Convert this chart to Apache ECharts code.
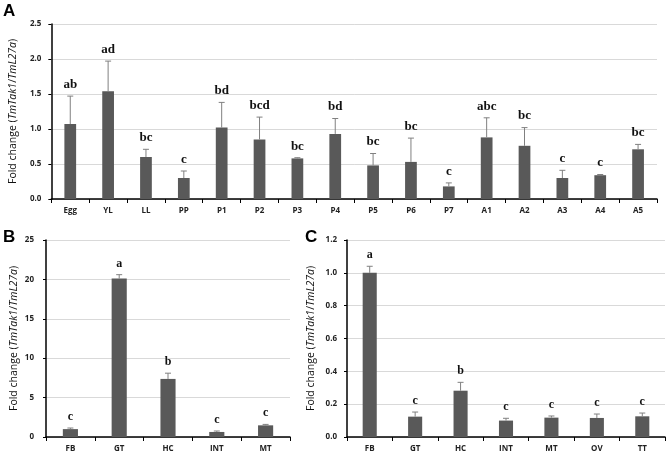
<!DOCTYPE html>
<html><head><meta charset="utf-8">
<script src="https://cdn.jsdelivr.net/npm/echarts@6/dist/echarts.min.js"></script>
<style>html,body{margin:0;padding:0;background:#fff}#c{width:669px;height:455px}</style>
</head><body><div id="c"></div>
<script>
// Panel A
const catsA = ['Egg','YL','LL','PP','P1','P2','P3','P4','P5','P6','P7','A1','A2','A3','A4','A5'];
const valsA = [1.07,1.54,0.60,0.30,1.02,0.85,0.58,0.93,0.48,0.53,0.18,0.88,0.76,0.30,0.34,0.71];
const errA  = [1.47,1.97,0.71,0.40,1.38,1.17,0.59,1.15,0.65,0.87,0.23,1.16,1.02,0.41,0.35,0.78];
const letA  = ['ab','ad','bc','c','bd','bcd','bc','bd','bc','bc','c','abc','bc','c','c','bc'];
const ticksA = [0,0.5,1.0,1.5,2.0,2.5];
// Panel B
const catsB = ['FB','GT','HC','INT','MT'];
const valsB = [1.0,20.1,7.37,0.64,1.48];
const errB  = [1.14,20.6,8.1,0.76,1.6];
const letB  = ['c','a','b','c','c'];
const ticksB = [0,5,10,15,20,25];
// Panel C
const catsC = ['FB','GT','HC','INT','MT','OV','TT'];
const valsC = [1.0,0.124,0.282,0.10,0.118,0.116,0.126];
const errC  = [1.04,0.152,0.333,0.114,0.128,0.14,0.146];
const letC  = ['a','c','b','c','c','c','c'];
const ticksC = [0,0.2,0.4,0.6,0.8,1.0,1.2];

const BAR = '#595959', ERR = '#808080', GRID = '#d9d9d9';
const sans = '"Open Sans", Lato, sans-serif';
const chart = echarts.init(document.getElementById('c'));

function xAx(idx, cats){
  return {type:'category', gridIndex:idx, data:cats,
    axisLine:{lineStyle:{color:'#000',width:1.5}},
    axisTick:{show:true, length:4, lineStyle:{color:'#000'}},
    axisLabel:{fontFamily:sans, fontWeight:'bold', fontSize:8, color:'#222', margin:8}};
}
function yAx(idx, ticks, dec, nameGap, margin){
  const step = ticks[1]-ticks[0];
  return {type:'value', gridIndex:idx, min:ticks[0], max:ticks[ticks.length-1], interval:step,
    name:'Fold change ({i|TmTak1}/{i|TmL27a})', nameLocation:'middle', nameGap:nameGap,
    nameTextStyle:{fontFamily:sans, fontSize:10.5, color:'#111',
      rich:{i:{fontFamily:sans, fontSize:10.5, fontStyle:'italic', color:'#111'}}},
    axisLine:{show:true, lineStyle:{color:'#000',width:1.5}},
    axisTick:{show:true, length:3, lineStyle:{color:'#000'}},
    splitLine:{show:true, lineStyle:{color:GRID, width:1}},
    axisLabel:{fontFamily:sans, fontWeight:'bold', fontSize:8, color:'#222', margin:margin,
      formatter: v => dec ? v.toFixed(1) : String(v)}};
}
function errSeries(idx, vals, errs, lets, fs){
  return {type:'custom', xAxisIndex:idx, yAxisIndex:idx, z:5,
    data: vals.map((v,i)=>[i, v, errs[i]]),
    renderItem:(params, api)=>{
      const i = api.value(0);
      const p0 = api.coord([i, api.value(1)]);
      const p1 = api.coord([i, api.value(2)]);
      return {type:'group', children:[
        {type:'line', shape:{x1:p0[0],y1:p0[1],x2:p1[0],y2:p1[1]}, style:{stroke:ERR, lineWidth:1}},
        {type:'line', shape:{x1:p1[0]-3,y1:p1[1],x2:p1[0]+3,y2:p1[1]}, style:{stroke:ERR, lineWidth:1}},
        {type:'text', style:{x:p1[0], y:p1[1]-5, text:lets[params.dataIndex], align:'center', verticalAlign:'bottom',
          font:'bold '+fs+'px "Liberation Serif", serif', fill:'#111'}}
      ]};
    }};
}
function barSeries(idx, vals){
  return {type:'bar', xAxisIndex:idx, yAxisIndex:idx, data:vals, barWidth:'31%',
    itemStyle:{color:BAR}, silent:true};
}

chart.setOption({
  animation:false,
  grid:[
    {left:50, right:12, top:24, bottom:256},
    {left:46, right:379, top:240, bottom:18},
    {left:347, right:4, top:240, bottom:18}
  ],
  xAxis:[xAx(0,catsA), xAx(1,catsB), xAx(2,catsC)],
  yAxis:[yAx(0,ticksA,true,30,10), yAx(1,ticksB,false,26,12), yAx(2,ticksC,true,30,10)],
  graphic:[
    {type:'text', left:3, top:3, style:{text:'A', font:'bold 17px "Liberation Sans", Arial, sans-serif', fill:'#000'}},
    {type:'text', left:3, top:229, style:{text:'B', font:'bold 17px "Liberation Sans", Arial, sans-serif', fill:'#000'}},
    {type:'text', left:305, top:229, style:{text:'C', font:'bold 17px "Liberation Sans", Arial, sans-serif', fill:'#000'}}
  ],
  series:[
    barSeries(0,valsA), errSeries(0,valsA,errA,letA,13),
    barSeries(1,valsB), errSeries(1,valsB,errB,letB,12),
    barSeries(2,valsC), errSeries(2,valsC,errC,letC,12)
  ]
});
</script></body></html>
